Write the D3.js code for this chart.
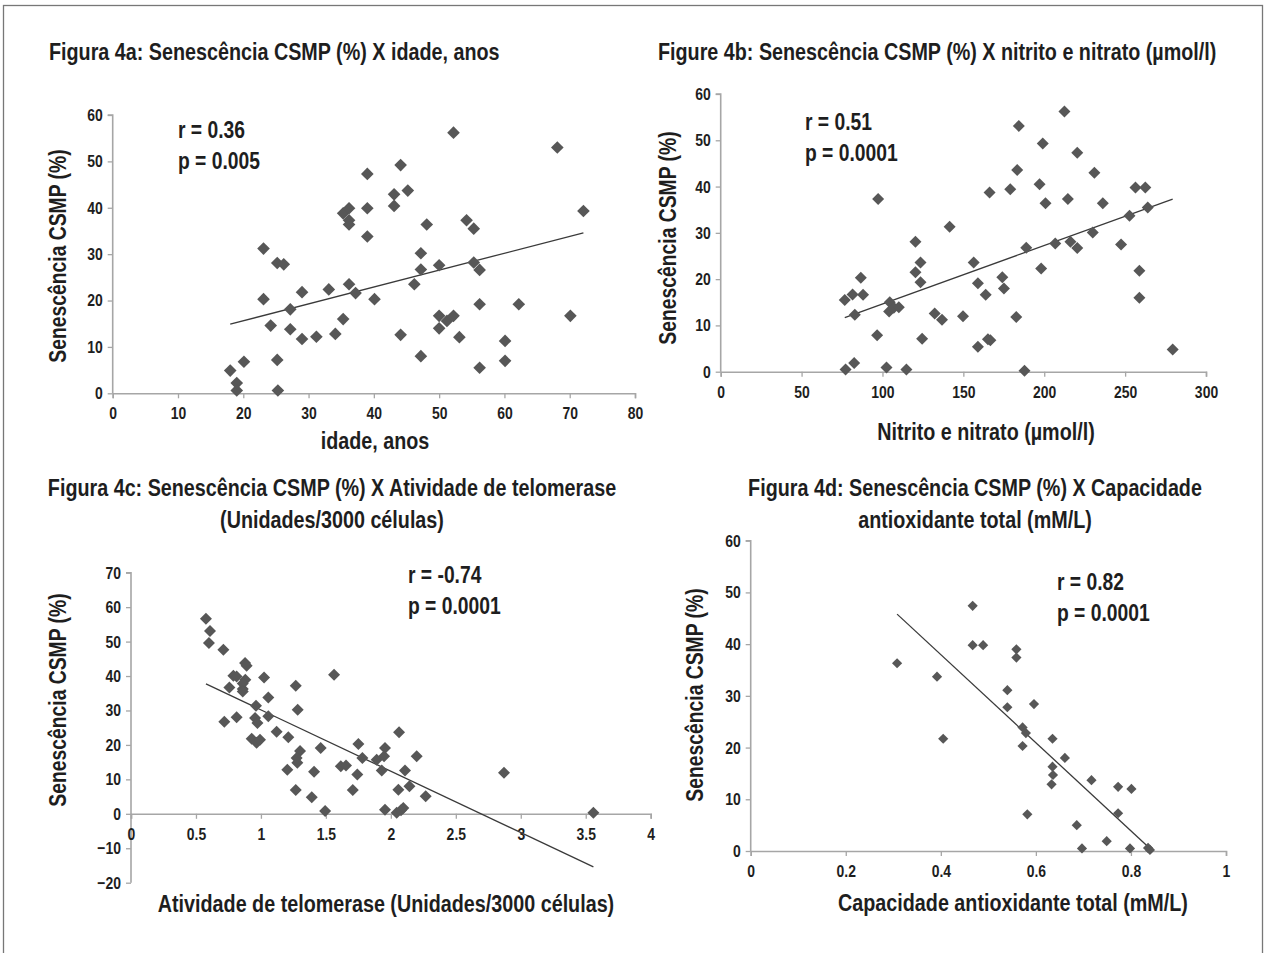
<!DOCTYPE html>
<html>
<head>
<meta charset="utf-8">
<script src="https://cdn.jsdelivr.net/npm/d3@7"></script>
<style>
  body { margin: 0; background: #fff; }
  svg { display: block; }
  text { font-family: "Liberation Sans", Arial, sans-serif; font-weight: bold; fill: #1e1e1e; }
</style>
</head>
<body>
<svg id="chart" width="1266" height="953"></svg>
<script>
// Figura 4a: idade x senescencia
var ageX = [18,19,19,20.1,23.1,23.1,24.2,25.2,26.2,25.2,25.3,27.2,27.2,29,29,31.2,33.1,34.1,35.3,35.3,36.2,36.2,36.2,36.2,37.2,39,39,39,40.1,43.1,43.1,44.1,44.1,45.2,47.2,47.2,46.2,47.2,48.1,50,50,50,51.2,52.2,52.2,53.1,54.2,55.3,55.3,56.2,56.2,56.2,60.1,60.1,62.2,68.1,70.1,72.1];
var ageY = [4.9,2.2,0.6,6.8,31.2,20.3,14.6,28.1,27.8,7.2,0.6,18.1,13.8,21.8,11.7,12.2,22.4,12.8,16,38.8,39.9,37.3,36.4,23.5,21.6,47.3,39.9,33.8,20.3,42.9,40.4,49.2,12.6,43.7,30.2,26.7,23.5,8,36.4,27.6,16.7,14,15.6,16.7,56.2,12.1,37.3,35.5,28.2,26.6,19.2,5.5,11.3,7,19.2,53,16.7,39.3];
var ageTrend = [[18,14.9],[72.1,34.6]];

// Figure 4b: nitrito e nitrato
var nitX = [76.7,81.5,86.6,88,82.9,77.2,82.5,97.3,96.7,102.5,104.5,104.1,107,110.1,114.8,120.4,120.4,123.5,123.5,124.5,132.3,136.8,141.5,149.8,156.4,159,159,163.8,165.2,166.7,166.2,174.1,175.1,179,182.7,183.3,184.3,187.8,188.9,197.1,199.1,198.1,200.8,206.8,212.5,214.6,216.2,220.4,220.4,230,231,236.2,247.5,252.7,256.4,262.5,264,258.8,258.8,279.4];
var nitY = [15.5,16.7,20.3,16.6,12.3,0.5,1.9,37.3,7.9,0.9,15,13,13.8,13.9,0.5,28.1,21.5,23.6,19.3,7.1,12.6,11.2,31.3,12,23.6,19.1,5.4,16.6,7,6.8,38.7,20.4,18,39.4,11.8,43.6,53.1,0.2,26.8,40.5,49.3,22.3,36.4,27.7,56.2,37.3,28.1,47.3,26.7,30.1,43,36.4,27.5,33.7,39.8,39.8,35.5,21.8,16,4.8];
var nitTrend = [[76.7,11.7],[279.4,37.3]];

// Figura 4c: atividade de telomerase
var telX = [0.577,0.608,0.6,0.711,0.718,0.757,0.788,0.813,0.813,0.86,0.878,0.89,0.88,0.86,0.86,0.962,0.955,0.973,0.929,0.967,0.993,1.024,1.057,1.057,1.121,1.211,1.203,1.268,1.283,1.268,1.301,1.275,1.28,1.409,1.391,1.46,1.494,1.563,1.615,1.655,1.707,1.742,1.75,1.781,1.891,1.93,1.955,1.948,1.955,2.045,2.063,2.058,2.078,2.096,2.109,2.143,2.199,2.268,2.871,3.559];
var telY = [56.6,53.1,49.6,47.6,26.7,36.7,40.1,39.9,28,36.2,43.8,43,38.9,37.8,35.5,31.4,27.8,26.4,21.8,20.6,21.5,39.6,33.8,28.3,23.8,22.2,12.8,37.2,30.2,6.9,18.2,16.2,14.8,12.2,4.8,19.1,0.8,40.4,13.8,14,6.9,11.4,20.3,16.2,15.7,12.6,19.1,16.7,1.2,0.3,23.7,7,1,1.7,12.6,8,16.7,5.1,11.9,0.3];
var telTrend = [[0.577,37.7],[3.559,-15.4]];

// Figura 4d: capacidade antioxidante total
var capX = [0.308,0.392,0.405,0.467,0.467,0.489,0.559,0.559,0.54,0.54,0.596,0.572,0.579,0.572,0.582,0.635,0.661,0.635,0.636,0.633,0.717,0.773,0.801,0.773,0.686,0.749,0.697,0.798,0.836,0.84];
var capY = [36.3,33.7,21.7,47.4,39.8,39.8,39,37.4,31.1,27.8,28.4,23.9,22.8,20.3,7.1,21.7,18,16.3,14.7,12.9,13.7,12.4,12,7.3,5,1.9,0.5,0.5,0.6,0.2];
var capTrend = [[0.308,45.8],[0.84,0.5]];

var yTicks60 = [0,10,20,30,40,50,60];
var yTicks70 = [-20,-10,0,10,20,30,40,50,60,70];
var ageTicks = [0,10,20,30,40,50,60,70,80];
var nitTicks = [0,50,100,150,200,250,300];
var telTicks = [0,0.5,1,1.5,2,2.5,3,3.5,4];
var capTicks = [0,0.2,0.4,0.6,0.8,1];

var yLabel = "Senescência CSMP (%)";

var panels = [
  { xs: ageX, ys: ageY, trend: ageTrend, xd: [0,80], yd: [0,60], xr: [112.7,635], yr: [393.3,115],
    xt: ageTicks, yt: yTicks60, xlab: "idade, anos", xlabPos: [375,449], ylabPos: [66,256],
    title: ["Figura 4a: Senescência CSMP (%) X idade, anos"], titlePos: [49,60], titleAnchor: "start",
    stats: ["r = 0.36","p = 0.005"], statPos: [178,138], ms: 80 },
  { xs: nitX, ys: nitY, trend: nitTrend, xd: [0,300], yd: [0,60], xr: [720.7,1206], yr: [371.7,94],
    xt: nitTicks, yt: yTicks60, xlab: "Nitrito e nitrato (µmol/l)", xlabPos: [986,440], ylabPos: [676,238],
    title: ["Figure 4b: Senescência CSMP (%) X nitrito e nitrato (µmol/l)"], titlePos: [658,60], titleAnchor: "start",
    stats: ["r = 0.51","p = 0.0001"], statPos: [805,130], ms: 72 },
  { xs: telX, ys: telY, trend: telTrend, xd: [0,4], yd: [-20,70], xr: [131,650.7], yr: [882.7,572.7],
    xt: telTicks, yt: yTicks70, xlab: "Atividade de telomerase (Unidades/3000 células)", xlabPos: [386,912], ylabPos: [66,700],
    title: ["Figura 4c: Senescência CSMP (%) X Atividade de telomerase", "(Unidades/3000 células)"], titlePos: [332,496], titleAnchor: "middle",
    stats: ["r = -0.74","p = 0.0001"], statPos: [408,583], ms: 72 },
  { xs: capX, ys: capY, trend: capTrend, xd: [0,1], yd: [0,60], xr: [750.7,1226], yr: [851,540.7],
    xt: capTicks, yt: yTicks60, xlab: "Capacidade antioxidante total (mM/L)", xlabPos: [1013,911], ylabPos: [703,695],
    title: ["Figura 4d: Senescência CSMP (%) X Capacidade", "antioxidante total (mM/L)"], titlePos: [975,496], titleAnchor: "middle",
    stats: ["r = 0.82","p = 0.0001"], statPos: [1057,590], ms: 52 }
];

var svg = d3.select("#chart");

// outer frame
svg.append("rect")
  .attr("x", 3.5).attr("y", 5.5)
  .attr("width", 1259).attr("height", 960)
  .style("fill", "none").style("stroke", "#777").style("stroke-width", 1.3);

panels.forEach(function(p) {
  var x = d3.scaleLinear().domain(p.xd).range(p.xr),
      y = d3.scaleLinear().domain(p.yd).range(p.yr);
  var g = svg.append("g");

  var ya = g.append("g").attr("transform", "translate(" + p.xr[0] + ",0)")
    .call(d3.axisLeft(y).tickValues(p.yt).tickSize(5).tickPadding(5).tickFormat(d3.format("d")));
  // x axis sits on y = 0
  var xa = g.append("g").attr("transform", "translate(0," + y(0) + ")")
    .call(d3.axisBottom(x).tickValues(p.xt).tickSize(5).tickPadding(9).tickSizeOuter(5)
      .tickFormat(function(d) { return String(d); }));

  [ya, xa].forEach(function(a) {
    a.select(".domain").style("stroke", "#a6a6a6").style("stroke-width", 1.6);
    a.selectAll(".tick line").style("stroke", "#a6a6a6").style("stroke-width", 1.3);
    a.selectAll(".tick text").style("font-size", "17px").style("fill", "#1e1e1e").attr("class", "narrow");
  });
  ya.select(".domain").attr("d", "M-5," + y(p.yd[1]) + "H0V" + y(p.yd[0]));

  // trend line
  g.append("line")
    .attr("x1", x(p.trend[0][0])).attr("y1", y(p.trend[0][1]))
    .attr("x2", x(p.trend[1][0])).attr("y2", y(p.trend[1][1]))
    .style("stroke", "#3a3a3a").style("stroke-width", 1.3);

  var sym = d3.symbol().type(d3.symbolSquare).size(p.ms);
  g.selectAll("path.pt")
    .data(d3.range(p.xs.length))
    .enter().append("path")
      .attr("class", "pt")
      .attr("d", sym)
      .attr("transform", function(i) { return "translate(" + x(p.xs[i]) + "," + y(p.ys[i]) + ") rotate(45)"; })
      .style("fill", "#575757");

  g.append("text")
    .attr("x", p.xlabPos[0]).attr("y", p.xlabPos[1])
    .attr("text-anchor", "middle").style("font-size", "23.5px")
    .text(p.xlab);
  g.append("text")
    .attr("transform", "translate(" + p.ylabPos[0] + "," + p.ylabPos[1] + ") rotate(-90)")
    .attr("text-anchor", "middle").style("font-size", "23px")
    .text(yLabel);

  p.title.forEach(function(t, k) {
    g.append("text")
      .attr("x", p.titlePos[0]).attr("y", p.titlePos[1] + k * 32)
      .attr("text-anchor", p.titleAnchor).style("font-size", "23.5px")
      .text(t);
  });

  p.stats.forEach(function(t, k) {
    g.append("text")
      .attr("class", "narrow")
      .attr("x", p.statPos[0]).attr("y", p.statPos[1] + k * 31)
      .style("font-size", "23.5px")
      .text(t);
  });
});

// squeeze everything to a narrow bold face (Arial Narrow is ~82% of Arial)
svg.selectAll("text").each(function() {
  var w = this.getComputedTextLength(),
      k = this.getAttribute("class") === "narrow" ? 0.82 : 0.84;
  d3.select(this).attr("textLength", w * k).attr("lengthAdjust", "spacingAndGlyphs");
});
</script>
</body>
</html>
